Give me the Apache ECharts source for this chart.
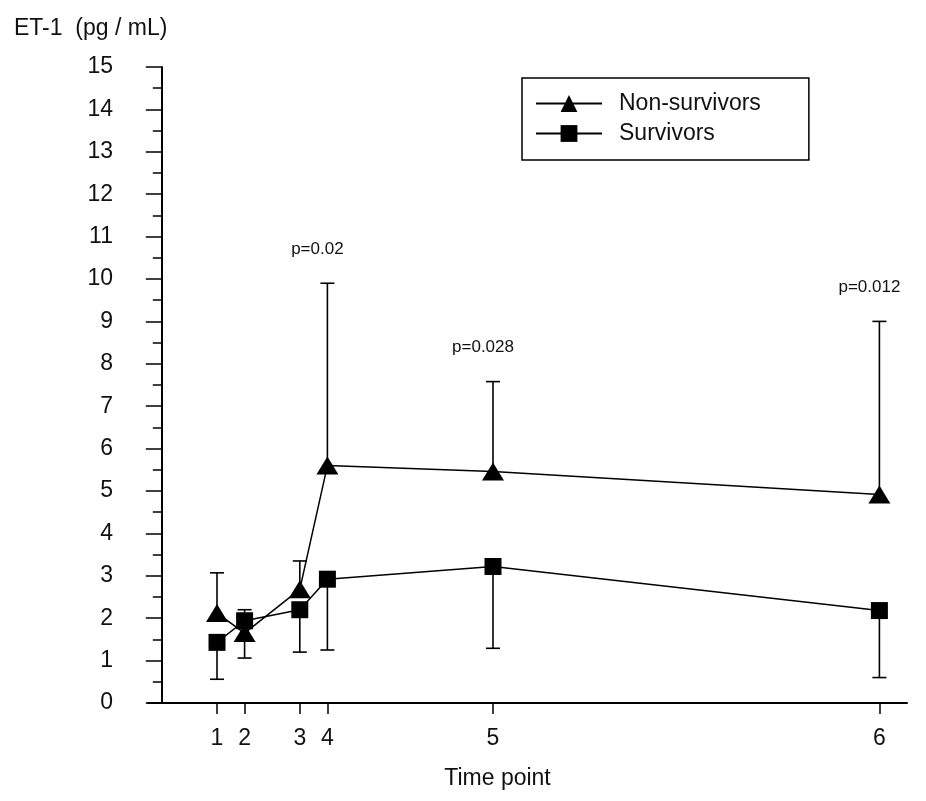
<!DOCTYPE html>
<html>
<head>
<meta charset="utf-8">
<title>ET-1 by time point</title>
<script src="https://cdn.jsdelivr.net/npm/echarts@6/dist/echarts.min.js"></script>
<style>
  html, body { margin: 0; padding: 0; background: #fff; }
  #main { width: 926px; height: 801px; }
</style>
</head>
<body>
<div id="main"></div>
<script>
// x positions of the six time points on the value axis, and what is printed under them
var timeX = [2, 3, 5, 6, 12, 26];
var timeLabels = ['1', '2', '3', '4', '5', '6'];

// ET-1 (pg/mL): mean and the one-sided error bar end
var nonSurvMean = [2.12, 1.65, 2.68, 5.6, 5.46, 4.92];
var nonSurvUpper = [3.07, 2.2, 3.35, 9.9, 7.58, 9.0];
var survMean = [1.43, 1.94, 2.2, 2.92, 3.22, 2.18];
var survLower = [0.56, 1.06, 1.2, 1.25, 1.29, 0.6];
var pLabels = ['', '', '', 'p=0.02', 'p=0.028', 'p=0.012'];

var yMin = 0, yMax = 15, yStep = 1;

var font = '"Liberation Sans", Arial, sans-serif';
var ink = '#111';

function pairs(ys) {
  return timeX.map(function (x, i) { return [x, ys[i]]; });
}
function barData(means, ends) {
  return timeX.map(function (x, i) { return [x, means[i], ends[i]]; });
}

// vertical whisker from the mean to the end, with a cap; optional p label above
function errorBar(labels) {
  return function (params, api) {
    var x = api.value(0);
    var p0 = api.coord([x, api.value(1)]);
    var p1 = api.coord([x, api.value(2)]);
    var cap = 7;
    var st = { stroke: '#000', lineWidth: 1.6 };
    var kids = [
      { type: 'line', shape: { x1: p0[0], y1: p0[1], x2: p1[0], y2: p1[1] }, style: st },
      { type: 'line', shape: { x1: p1[0] - cap, y1: p1[1], x2: p1[0] + cap, y2: p1[1] }, style: st }
    ];
    var txt = labels && labels[params.dataIndex];
    if (txt) {
      kids.push({
        type: 'text', x: p1[0] - 10, y: p1[1] - 34,
        style: { text: txt, align: 'center', verticalAlign: 'middle',
                 font: '17px ' + font, fill: ink }
      });
    }
    return { type: 'group', children: kids };
  };
}

var chart = echarts.init(document.getElementById('main'));
var option = {
  animation: false,
  backgroundColor: '#fff',
  title: {
    text: 'ET-1  (pg / mL)',
    left: 9, top: 12,
    textStyle: { fontFamily: font, fontSize: 23, fontWeight: 'normal', color: ink }
  },
  legend: {
    data: ['Non-survivors', 'Survivors'],
    orient: 'vertical',
    left: 522, top: 78,
    itemWidth: 66, itemHeight: 21, itemGap: 7,
    padding: [14, 48, 15, 13],
    borderColor: '#000', borderWidth: 1.5,
    textStyle: { fontFamily: font, fontSize: 23, color: ink, padding: [0, 0, 0, 12] }
  },
  grid: { left: 148, right: 19, top: 67, bottom: 98, outerBoundsMode: 'none' },
  xAxis: {
    type: 'value', min: -0.5, max: 27,
    axisLine: { lineStyle: { color: '#000', width: 2 } },
    axisTick: { show: true, customValues: timeX, length: 11, lineStyle: { color: '#000', width: 1.5 } },
    axisLabel: {
      customValues: timeX,
      formatter: function (v) { return timeLabels[timeX.indexOf(v)]; },
      margin: 24, fontFamily: font, fontSize: 23, color: ink
    },
    splitLine: { show: false },
    name: 'Time point', nameLocation: 'middle', nameGap: 64,
    nameTextStyle: { fontFamily: font, fontSize: 23, color: ink, padding: [0, 60, 0, 0] }
  },
  yAxis: {
    type: 'value', min: yMin, max: yMax, interval: yStep,
    axisLine: { show: true, onZero: true, lineStyle: { color: '#000', width: 2 } },
    axisTick: { show: true, length: 16, lineStyle: { color: '#000', width: 1.5 } },
    minorTick: { show: true, splitNumber: 2, length: 9, lineStyle: { color: '#000', width: 1.5 } },
    axisLabel: { margin: 35, fontFamily: font, fontSize: 23, color: ink },
    splitLine: { show: false }
  },
  series: [
    {
      type: 'custom', name: 'nsErr', z: 1,
      renderItem: errorBar(pLabels),
      encode: { x: 0, y: [1, 2] },
      data: barData(nonSurvMean, nonSurvUpper)
    },
    {
      type: 'custom', name: 'sErr', z: 1,
      renderItem: errorBar(null),
      encode: { x: 0, y: [1, 2] },
      data: barData(survMean, survLower)
    },
    {
      name: 'Non-survivors', type: 'line', z: 3,
      data: pairs(nonSurvMean),
      symbol: 'triangle', symbolSize: [22, 18],
      lineStyle: { color: '#000', width: 1.5 },
      itemStyle: { color: '#000' }
    },
    {
      name: 'Survivors', type: 'line', z: 3,
      data: pairs(survMean),
      symbol: 'rect', symbolSize: 17,
      lineStyle: { color: '#000', width: 1.5 },
      itemStyle: { color: '#000' }
    }
  ]
};
chart.setOption(option);
</script>
</body>
</html>
